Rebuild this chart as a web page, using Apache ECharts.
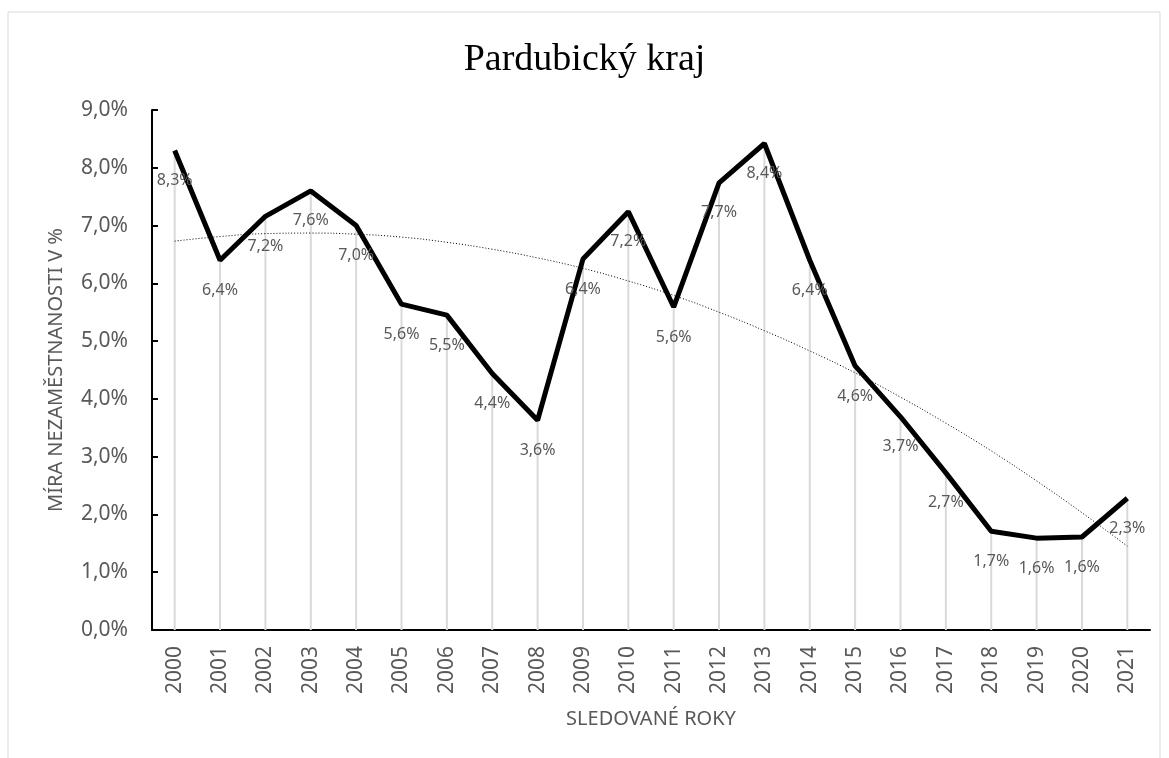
<!DOCTYPE html>
<html>
<head>
  <meta charset="utf-8">
  <title>Pardubický kraj</title>
  <script src="https://cdn.jsdelivr.net/npm/echarts@6/dist/echarts.min.js"></script>
  <style>
    html, body { margin: 0; padding: 0; background: #fff; }
    #chart { width: 1169px; height: 758px; }
  </style>
</head>
<body>
<div id="chart"></div>
<script type="text/javascript">
// roky na ose x
var years = ['2000', '2001', '2002', '2003', '2004', '2005', '2006', '2007', '2008', '2009', '2010',
             '2011', '2012', '2013', '2014', '2015', '2016', '2017', '2018', '2019', '2020', '2021'];
// míra nezaměstnanosti v %
var rates = [8.3, 6.4, 7.16, 7.6, 7.0, 5.64, 5.45, 4.44, 3.63, 6.42, 7.24,
             5.59, 7.74, 8.42, 6.4, 4.57, 3.69, 2.72, 1.71, 1.59, 1.61, 2.28];
// polynomická spojnice trendu
var trend = [6.73, 6.81, 6.86, 6.87, 6.85, 6.80, 6.71, 6.59, 6.44, 6.26, 6.04,
             5.79, 5.50, 5.18, 4.83, 4.45, 4.03, 3.58, 3.10, 2.58, 2.03, 1.45];
// popisky osy y
var yTicks = [0, 1, 2, 3, 4, 5, 6, 7, 8, 9];

var fmt = function (v) { return v.toFixed(1).replace('.', ',') + '%'; };
var labelFont = 'Noto Sans, sans-serif';

var chart = echarts.init(document.getElementById('chart'));
chart.setOption({
  backgroundColor: '#fff',
  animation: false,
  graphic: [{
    type: 'rect',
    shape: { x: 8, y: 12, width: 1152, height: 760 },
    style: { fill: 'none', stroke: '#d9d9d9', lineWidth: 1 }
  }],
  title: {
    text: 'Pardubický kraj',
    left: 'center',
    top: 36,
    textStyle: { fontFamily: 'Liberation Serif, serif', fontSize: 38, fontWeight: 'normal', color: '#000' }
  },
  grid: { left: 152, top: 110, width: 998, height: 520 },
  xAxis: {
    type: 'category',
    data: years,
    boundaryGap: true,
    name: 'SLEDOVANÉ ROKY',
    nameLocation: 'middle',
    nameGap: 79,
    nameTextStyle: { fontFamily: labelFont, fontSize: 20, color: '#595959' },
    axisLine: { lineStyle: { color: '#000', width: 2 } },
    axisTick: { show: false },
    axisLabel: { rotate: 90, margin: 16, fontFamily: labelFont, fontSize: 21, color: '#595959' }
  },
  yAxis: {
    type: 'value',
    min: yTicks[0],
    max: yTicks[yTicks.length - 1],
    interval: 1,
    name: 'MÍRA NEZAMĚSTNANOSTI V %',
    nameLocation: 'middle',
    nameGap: 86,
    nameTextStyle: { fontFamily: labelFont, fontSize: 20, color: '#595959' },
    axisLine: { show: true, lineStyle: { color: '#000', width: 2 } },
    axisTick: { show: true, inside: true, length: 6, lineStyle: { color: '#000', width: 2 } },
    splitLine: { show: false },
    axisLabel: { margin: 24, fontFamily: labelFont, fontSize: 21, color: '#595959', formatter: fmt }
  },
  series: [{
    name: 'svislice',
    type: 'bar',
    data: rates,
    barWidth: 2,
    itemStyle: { color: '#d9d9d9' },
    silent: true
  }, {
    name: 'trend',
    type: 'line',
    data: trend,
    symbol: 'none',
    smooth: true,
    lineStyle: { color: '#000', width: 1, type: [1, 2] },
    z: 3
  }, {
    name: 'míra',
    type: 'line',
    data: rates,
    symbol: 'circle',
    symbolSize: 0,
    showSymbol: true,
    itemStyle: { color: '#000' },
    lineStyle: { color: '#000', width: 5 },
    z: 4,
    label: {
      show: true,
      position: 'bottom',
      distance: 22,
      fontFamily: labelFont,
      fontSize: 16,
      color: '#595959',
      formatter: function (p) { return fmt(p.value); }
    }
  }]
});
</script>
</body>
</html>
